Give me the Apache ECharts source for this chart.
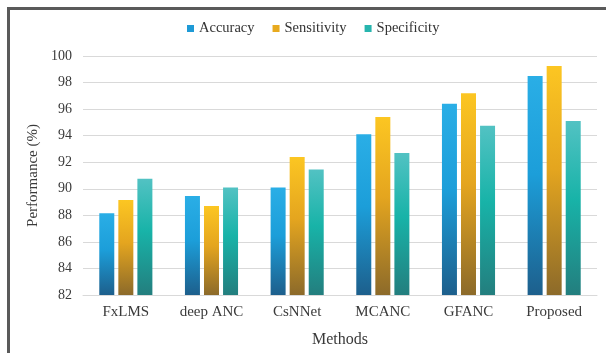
<!DOCTYPE html>
<html><head><meta charset="utf-8">
<script src="https://cdn.jsdelivr.net/npm/echarts@6/dist/echarts.min.js"></script>
<style>html,body{margin:0;padding:0;background:#fff}#c{width:606px;height:353px}</style>
</head><body><div id="c"></div>
<script>
const categories = ['FxLMS', 'deep ANC', 'CsNNet', 'MCANC', 'GFANC', 'Proposed'];
const accuracy = [88.15, 89.45, 90.1, 94.1, 96.4, 98.5];
const sensitivity = [89.15, 88.7, 92.4, 95.4, 97.2, 99.25];
const specificity = [90.75, 90.1, 91.45, 92.7, 94.75, 95.1];
const yTicks = [82, 84, 86, 88, 90, 92, 94, 96, 98, 100];

function grad(top, mid, bottom) {
  return new echarts.graphic.LinearGradient(0, 0, 0, 1, [
    {offset: 0, color: top}, {offset: 0.45, color: mid}, {offset: 1, color: bottom}
  ]);
}
const font = '"Liberation Serif", "DejaVu Serif", serif';
const chart = echarts.init(document.getElementById('c'), null, {renderer: 'canvas'});
const mk = (name, data, top, mid, bottom) => ({
  name, type: 'bar', data, barWidth: 15, barGap: '27%',
  itemStyle: {color: grad(top, mid, bottom)},
  emphasis: {disabled: true}
});
chart.setOption({
  animation: false,
  textStyle: {fontFamily: font},
  graphic: [
    {type: 'rect', shape: {x: 7, y: 7, width: 599, height: 3}, style: {fill: '#5a5a5a'}},
    {type: 'rect', shape: {x: 7, y: 7, width: 3, height: 346}, style: {fill: '#5a5a5a'}}
  ],
  legend: {
    top: 16, left: 182, itemWidth: 7, itemHeight: 7, itemGap: 18,
    icon: 'rect',
    textStyle: {fontFamily: font, fontSize: 14.5, color: '#333'},
    data: [
      {name: 'Accuracy', itemStyle: {color: '#1E9AD6'}},
      {name: 'Sensitivity', itemStyle: {color: '#E8AA1E'}},
      {name: 'Specificity', itemStyle: {color: '#27B5AE'}}
    ]
  },
  grid: {left: 83, right: 9, top: 56, bottom: 57},
  xAxis: {
    type: 'category', data: categories,
    name: 'Methods', nameLocation: 'middle', nameGap: 37,
    nameTextStyle: {fontFamily: font, fontSize: 16, color: '#3a3a3a'},
    axisLine: {lineStyle: {color: '#d9d9d9', width: 1}},
    axisTick: {show: false},
    axisLabel: {fontFamily: font, fontSize: 15, color: '#3a3a3a', margin: 10}
  },
  yAxis: {
    type: 'value', min: 82, max: 100, interval: 2,
    name: 'Performance (%)', nameLocation: 'middle', nameGap: 40, nameRotate: 90,
    nameTextStyle: {fontFamily: font, fontSize: 15, color: '#3a3a3a'},
    axisLine: {show: false}, axisTick: {show: false},
    axisLabel: {fontFamily: font, fontSize: 14, color: '#3a3a3a', margin: 11,
      formatter: v => yTicks.includes(v) ? String(v) : ''},
    splitLine: {lineStyle: {color: '#d9d9d9', width: 1}}
  },
  series: [
    mk('Accuracy', accuracy, '#2AAEE6', '#1C9ED9', '#1D5F8C'),
    mk('Sensitivity', sensitivity, '#FCC622', '#E4A51F', '#8C6A2A'),
    mk('Specificity', specificity, '#52C2C3', '#18B3A8', '#237E7E')
  ]
});
</script></body></html>
